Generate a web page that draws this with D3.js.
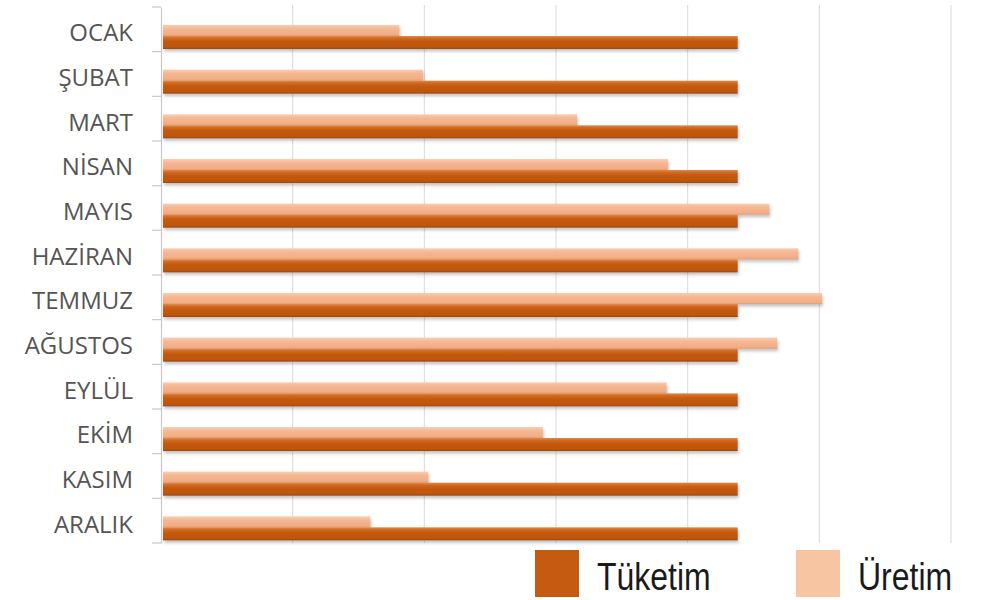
<!DOCTYPE html>
<html>
<head>
<meta charset="utf-8">
<script src="https://cdn.jsdelivr.net/npm/d3@7"></script>
<style>
  html, body { margin: 0; padding: 0; background: #ffffff; }
  svg { display: block; }
</style>
</head>
<body>
<div id="chart"></div>
<script>
// Monthly energy: consumption (Tüketim) vs production (Üretim)
const months = ["OCAK", "ŞUBAT", "MART", "NİSAN", "MAYIS", "HAZİRAN",
                "TEMMUZ", "AĞUSTOS", "EYLÜL", "EKİM", "KASIM", "ARALIK"];
const tuketim = [438, 438, 438, 438, 438, 438, 438, 438, 438, 438, 438, 438];
const uretim  = [181, 199, 316, 385, 462, 484, 502, 468, 384, 290, 203, 159];
const seriesNames = ["Tüketim", "Üretim"];
const xTicks = [0, 100, 200, 300, 400, 500, 600];

const W = 995, H = 600;
const svg = d3.select("#chart").append("svg")
  .attr("width", W).attr("height", H);

const defs = svg.append("defs");

// soft shadow under each bar
const shadow = defs.append("filter").attr("id", "barShadow")
  .attr("x", "-5%").attr("y", "-40%").attr("width", "110%").attr("height", "200%");
shadow.append("feDropShadow")
  .attr("dx", 1).attr("dy", 2.5).attr("stdDeviation", 1.6)
  .attr("flood-color", "#555").attr("flood-opacity", 0.35);

function vGrad(id, stops) {
  const g = defs.append("linearGradient").attr("id", id)
    .attr("x1", 0).attr("y1", 0).attr("x2", 0).attr("y2", 1);
  stops.forEach(([o, c]) => g.append("stop").attr("offset", o).attr("stop-color", c));
}
vGrad("gradDark", [[0, "#e08a4c"], [0.18, "#d06a22"], [0.4, "#c55a11"], [0.85, "#bd5610"], [1, "#9c470d"]]);
vGrad("gradLight", [[0, "#f9cdb2"], [0.35, "#f5b792"], [0.85, "#f2ae86"], [1, "#e49a70"]]);

const x = d3.scaleLinear().domain([0, 600]).range([161, 951]);
const y = d3.scaleBand().domain(months).range([7, 543]).paddingInner(0);
const inner = d3.scaleBand().domain(["Üretim", "Tüketim"]).range([16, 42]);

// vertical gridlines
svg.append("g")
  .selectAll("line")
  .data(xTicks.slice(1))
  .join("line")
  .attr("x1", d => x(d)).attr("x2", d => x(d))
  .attr("y1", 5).attr("y2", 543)
  .attr("stroke", "#d9d9d9").attr("stroke-width", 1);

// category axis
const yAxis = d3.axisLeft(y).tickSize(0).tickPadding(28).tickSizeOuter(0);
const axisG = svg.append("g").attr("transform", "translate(161,0)").call(yAxis);
axisG.select(".domain").attr("stroke", "#c8c8c8").attr("stroke-width", 1.2);
axisG.selectAll(".tick text")
  .attr("dy", "0.5em")
  .attr("font-family", "'Open Sans', sans-serif")
  .attr("font-size", 24)
  .attr("fill", "#555555");

// tick marks at category boundaries
const bounds = months.map(m => y(m)).concat([y.range()[1]]);
svg.append("g")
  .selectAll("line")
  .data(bounds)
  .join("line")
  .attr("x1", 152).attr("x2", 161)
  .attr("y1", d => d).attr("y2", d => d)
  .attr("stroke", "#c8c8c8").attr("stroke-width", 1.2);

const rows = months.map((m, i) => ({ month: m, tuketim: tuketim[i], uretim: uretim[i] }));

const bars = svg.append("g").attr("filter", "url(#barShadow)");

// production bars (light), drawn behind
bars.selectAll("rect.uretim")
  .data(rows)
  .join("rect")
  .attr("class", "uretim")
  .attr("x", x(0) + 2)
  .attr("y", d => y(d.month) + inner("Üretim") + 2)
  .attr("width", d => x(d.uretim) - x(0) - 2)
  .attr("height", inner.bandwidth() - 2)
  .attr("fill", "url(#gradLight)");

// consumption bars (dark), in front
bars.selectAll("rect.tuketim")
  .data(rows)
  .join("rect")
  .attr("class", "tuketim")
  .attr("x", x(0) + 2)
  .attr("y", d => y(d.month) + inner("Tüketim"))
  .attr("width", d => x(d.tuketim) - x(0) - 2)
  .attr("height", inner.bandwidth())
  .attr("fill", "url(#gradDark)");

// legend: swatch + condensed label
const legendColors = { "Tüketim": "#c55a11", "Üretim": "#f8c5a2" };
const legendX = { "Tüketim": 535, "Üretim": 796 };
const leg = svg.append("g");
seriesNames.forEach(name => {
  const g = leg.append("g").attr("transform", `translate(${legendX[name]},0)`);
  g.append("rect")
    .attr("x", 0).attr("y", 550).attr("width", 44).attr("height", 47)
    .attr("fill", legendColors[name]);
  g.append("text")
    .attr("transform", "translate(62,590) scale(0.82,1)")
    .attr("font-family", "'Liberation Sans', Arial, sans-serif")
    .attr("font-size", 39)
    .attr("fill", "#1a1a1a")
    .text(name);
});
</script>
</body>
</html>
